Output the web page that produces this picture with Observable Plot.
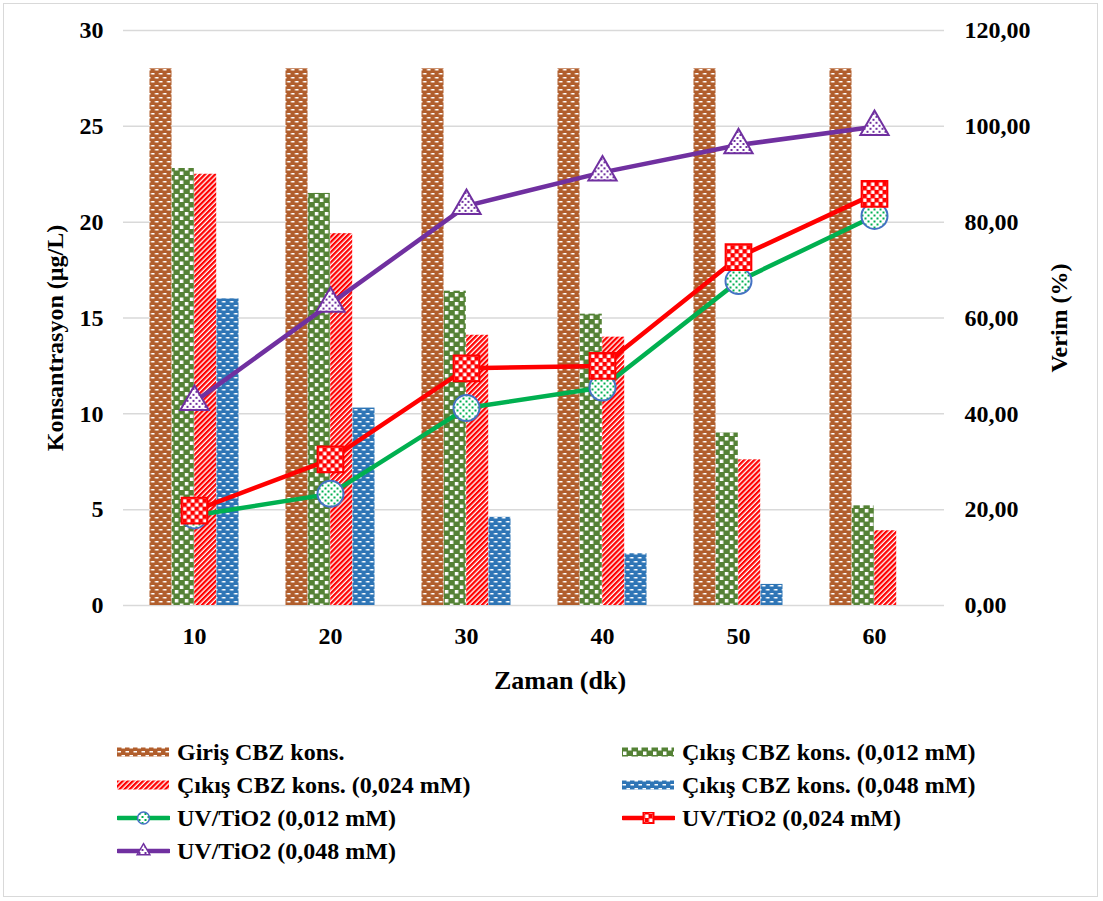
<!DOCTYPE html>
<html><head><meta charset="utf-8">
<script src="https://cdn.jsdelivr.net/npm/d3@7"></script>
<script src="https://cdn.jsdelivr.net/npm/@observablehq/plot@0.6"></script>
<style>
body{margin:0;background:#fff;font-family:"Liberation Serif","DejaVu Serif",serif;}
#frame{position:absolute;left:3px;top:3px;width:1095px;height:894px;border:1px solid #d9d9d9;box-sizing:border-box;}
#chart{position:absolute;left:0;top:0;}
#chart svg text{font-family:"Liberation Serif","DejaVu Serif",serif;}
#legend{position:absolute;left:0;top:0;width:1103px;}
.item{position:absolute;display:flex;align-items:center;height:30px;font-weight:bold;font-size:24px;color:#000;white-space:nowrap;font-family:"Liberation Serif","DejaVu Serif",serif;}
.item svg{margin-right:7px;}
</style></head><body>
<svg width="0" height="0" style="position:absolute"><defs>
  <pattern id="pBrown" patternUnits="userSpaceOnUse" width="8" height="8">
    <rect width="8" height="8" fill="#B15E2C"/>
    <rect x="0.5" y="1" width="3.5" height="1.5" fill="#fff"/>
    <rect x="4.5" y="5" width="3.5" height="1.5" fill="#fff"/>
  </pattern>
  <pattern id="pBlue" patternUnits="userSpaceOnUse" width="8" height="8">
    <rect width="8" height="8" fill="#2E75B6"/>
    <rect x="0.5" y="1" width="3.5" height="1.5" fill="#fff"/>
    <rect x="4.5" y="5" width="3.5" height="1.5" fill="#fff"/>
  </pattern>
  <pattern id="pGreen" patternUnits="userSpaceOnUse" width="10" height="9">
    <rect width="10" height="9" fill="#548235"/>
    <rect x="1" y="0.5" width="3.5" height="3.5" fill="#fff"/>
    <rect x="6" y="5" width="3.5" height="3.5" fill="#fff"/>
  </pattern>
  <pattern id="pRed" patternUnits="userSpaceOnUse" width="3.6" height="3.6" patternTransform="rotate(45)">
    <rect width="3.6" height="3.6" fill="#fff"/>
    <rect width="2.3" height="3.6" fill="#FF0000"/>
  </pattern>
  <pattern id="mGreen" patternUnits="userSpaceOnUse" width="6" height="6">
    <rect width="6" height="6" fill="#fff"/>
    <rect x="1" y="1" width="2" height="2" fill="#00B050"/>
    <rect x="4" y="4" width="2" height="2" fill="#00B050"/>
  </pattern>
  <pattern id="mRed" patternUnits="userSpaceOnUse" width="8" height="8">
    <rect width="8" height="8" fill="#FF0000"/>
    <rect x="0.5" y="0.5" width="3.5" height="3.5" fill="#fff"/>
    <rect x="4.5" y="4.5" width="3.5" height="3.5" fill="#fff"/>
  </pattern>
  <pattern id="mPurple" patternUnits="userSpaceOnUse" width="6" height="6">
    <rect width="6" height="6" fill="#fff"/>
    <rect x="1" y="1" width="2" height="2" fill="#7030A0"/>
    <rect x="4" y="4" width="2" height="2" fill="#7030A0"/>
  </pattern>
</defs></svg>
<div id="frame"></div>
<div id="chart"></div>
<div id="legend"></div>
<script>
// ---- data ----
const times = [10, 20, 30, 40, 50, 60];
const girisKons = [28, 28, 28, 28, 28, 28];
const cikis012 = [22.8, 21.5, 16.4, 15.2, 9.0, 5.2];
const cikis024 = [22.5, 19.4, 14.1, 14.0, 7.6, 3.9];
const cikis048 = [16.0, 10.3, 4.6, 2.7, 1.1, 0];
const verim012 = [18.8, 23.3, 41.2, 45.5, 67.7, 81.3];
const verim024 = [19.8, 30.5, 49.5, 50.0, 72.7, 85.9];
const verim048 = [42.5, 63.0, 83.4, 90.4, 96.1, 99.9];
const leftTicks = [0, 5, 10, 15, 20, 25, 30];
const seriesNames = ["Giriş CBZ kons.", "Çıkış CBZ kons. (0,012 mM)", "Çıkış CBZ kons. (0,024 mM)", "Çıkış CBZ kons. (0,048 mM)",
  "UV/TiO2 (0,012 mM)", "UV/TiO2 (0,024 mM)", "UV/TiO2 (0,048 mM)"];

const rows = vals => times.map((t, i) => ({t, v: vals[i]}));
const bars = [
  {vals: girisKons, fill: "url(#pBrown)", dx: -33.5},
  {vals: cikis012, fill: "url(#pGreen)", dx: -11.2},
  {vals: cikis024, fill: "url(#pRed)", dx: 11.2},
  {vals: cikis048, fill: "url(#pBlue)", dx: 33.5}
];
const lines = [
  {vals: verim012, stroke: "#00B050", symbol: "circle", r: 13, fill: "url(#mGreen)", mstroke: "#4472C4"},
  {vals: verim024, stroke: "#FF0000", symbol: "square", r: 14.5, fill: "url(#mRed)", mstroke: "#FF0000"},
  {vals: verim048, stroke: "#7030A0", symbol: "triangle", r: 10.5, fill: "url(#mPurple)", mstroke: "#7030A0"}
];
const scaleR = 30 / 120;
const serif = "Liberation Serif, DejaVu Serif, serif";

const marks = [
  Plot.gridY(leftTicks, {stroke: "#d9d9d9", strokeOpacity: 1, strokeWidth: 1.5}),
  ...bars.map(b => Plot.barY(rows(b.vals), {x: "t", y: "v", fill: b.fill, dx: b.dx})),
  ...lines.map(l => Plot.line(rows(l.vals), {x: "t", y: d => d.v * scaleR, stroke: l.stroke, strokeWidth: 4.5})),
  ...lines.map(l => Plot.dot(rows(l.vals), {x: "t", y: d => d.v * scaleR, symbol: l.symbol, r: l.r, fill: l.fill, stroke: l.mstroke, strokeWidth: 2})),
  Plot.axisY({anchor: "left", ticks: leftTicks, tickSize: 0, tickPadding: 20, label: null, fontFamily: serif}),
  Plot.axisY({anchor: "right", ticks: leftTicks, tickSize: 0, tickPadding: 20, label: null, fontFamily: serif,
    tickFormat: d => (d / scaleR).toFixed(2).replace(".", ",")}),
  Plot.axisX({anchor: "bottom", tickSize: 0, tickPadding: 21, label: null, fontFamily: serif}),
  Plot.text(["Konsantrasyon (µg/L)"], {text: d => d, frameAnchor: "left", dx: -68, dy: 20, rotate: -90, textAnchor: "middle", fontSize: 24, fontFamily: serif}),
  Plot.text(["Verim (%)"], {text: d => d, frameAnchor: "right", dx: 115, rotate: -90, textAnchor: "middle", fontSize: 24, fontFamily: serif}),
  Plot.text(["Zaman (dk)"], {text: d => d, frameAnchor: "bottom", dx: 26, dy: 83, textAnchor: "middle", fontSize: 26, fontFamily: serif})
];

const chart = Plot.plot({
  width: 1103, height: 720,
  marginLeft: 123, marginRight: 159, marginTop: 30, marginBottom: 115,
  x: {type: "band", domain: times, paddingInner: 0.839, paddingOuter: 0.4195},
  y: {domain: [0, 30]},
  style: {fontFamily: serif, fontSize: "24px", fontWeight: "bold", color: "#000", background: "transparent", overflow: "visible"},
  marks
});
document.getElementById("chart").appendChild(chart);

// ---- legend ----
const legend = document.getElementById("legend");
const legendItems = [
  {name: seriesNames[0], kind: "bar", fill: "url(#pBrown)", col: 0, row: 0},
  {name: seriesNames[1], kind: "bar", fill: "url(#pGreen)", col: 1, row: 0},
  {name: seriesNames[2], kind: "bar", fill: "url(#pRed)", col: 0, row: 1},
  {name: seriesNames[3], kind: "bar", fill: "url(#pBlue)", col: 1, row: 1},
  {name: seriesNames[4], kind: "line", line: lines[0], col: 0, row: 2},
  {name: seriesNames[5], kind: "line", line: lines[1], col: 1, row: 2},
  {name: seriesNames[6], kind: "line", line: lines[2], col: 0, row: 3}
];
const colX = [117, 622], rowY = [752, 785, 818, 851];
const ns = "http://www.w3.org/2000/svg";
for (const it of legendItems) {
  const div = document.createElement("div");
  div.className = "item";
  div.style.left = colX[it.col] + "px";
  div.style.top = (rowY[it.row] - 15) + "px";
  const svg = document.createElementNS(ns, "svg");
  svg.setAttribute("width", 53); svg.setAttribute("height", 20);
  if (it.kind === "bar") {
    const r = document.createElementNS(ns, "rect");
    r.setAttribute("x", 0); r.setAttribute("y", 5.5); r.setAttribute("width", 52); r.setAttribute("height", 9);
    r.setAttribute("fill", it.fill);
    svg.appendChild(r);
  } else {
    const l = document.createElementNS(ns, "line");
    l.setAttribute("x1", 1); l.setAttribute("x2", 52); l.setAttribute("y1", 10); l.setAttribute("y2", 10);
    l.setAttribute("stroke", it.line.stroke); l.setAttribute("stroke-width", 4.5); l.setAttribute("stroke-linecap", "round");
    svg.appendChild(l);
    const sym = it.line.symbol === "circle" ? d3.symbolCircle : it.line.symbol === "square" ? d3.symbolSquare : d3.symbolTriangle;
    const p = document.createElementNS(ns, "path");
    p.setAttribute("d", d3.symbol(sym, it.line.symbol === "triangle" ? 70 : 110)());
    p.setAttribute("transform", "translate(26.5,10)");
    p.setAttribute("fill", it.line.fill); p.setAttribute("stroke", it.line.mstroke); p.setAttribute("stroke-width", 1.5);
    svg.appendChild(p);
  }
  div.appendChild(svg);
  const span = document.createElement("span");
  span.textContent = it.name;
  div.appendChild(span);
  legend.appendChild(div);
}
</script>
</body></html>
